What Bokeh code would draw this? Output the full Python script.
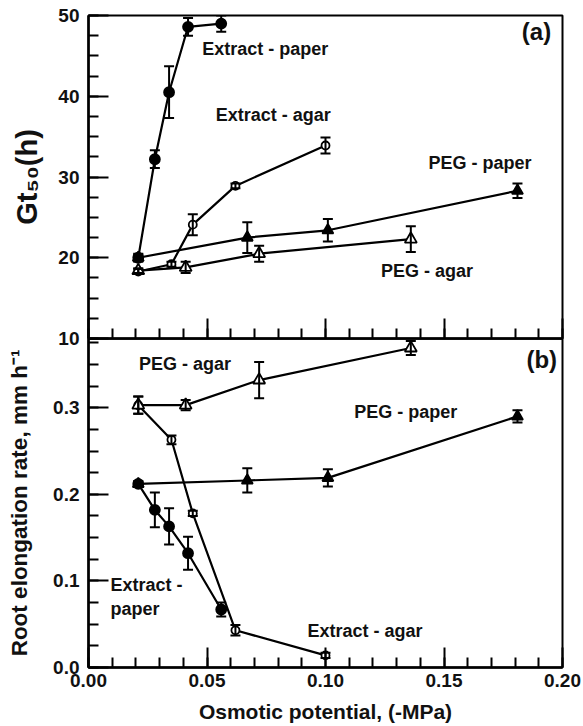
import numpy as np
from bokeh.plotting import figure
from bokeh.models import (Range1d, FixedTicker, NumeralTickFormatter, Whisker, TeeHead,
                          ColumnDataSource)
from bokeh.layouts import column
from bokeh.core.properties import value
from bokeh.embed import file_html
from bokeh.resources import INLINE

FONT = "Liberation Sans"

# ---------------- data ----------------
# Osmotic potential (-MPa)
ext_paper_x = [0.021, 0.028, 0.034, 0.042, 0.056]
ext_agar_x = [0.021, 0.035, 0.044, 0.062, 0.100]
peg_paper_x = [0.021, 0.067, 0.101, 0.181]
peg_agar_x = [0.021, 0.041, 0.072, 0.136]

# (a) Gt50 (h)
ext_paper_gt = [20.0, 32.2, 40.5, 48.6, 49.0]
ext_paper_gt_err = [0.4, 1.1, 3.2, 1.1, 1.0]
ext_agar_gt = [18.3, 19.2, 24.1, 28.9, 33.9]
ext_agar_gt_err = [0.3, 0.3, 1.3, 0.3, 1.0]
peg_paper_gt = [20.0, 22.5, 23.4, 28.3]
peg_paper_gt_err = [0.5, 1.9, 1.4, 0.9]
peg_agar_gt = [18.4, 18.8, 20.5, 22.3]
peg_agar_gt_err = [0.3, 0.7, 1.0, 1.6]

# (b) Root elongation rate (mm h-1)
ext_paper_rate = [0.212, 0.182, 0.163, 0.132, 0.067]
ext_paper_rate_err = [0.003, 0.020, 0.021, 0.019, 0.008]
ext_agar_rate = [0.303, 0.263, 0.178, 0.043, 0.014]
ext_agar_rate_err = [0.010, 0.005, 0.003, 0.006, 0.003]
peg_paper_rate = [0.212, 0.216, 0.219, 0.290]
peg_paper_rate_err = [0.003, 0.014, 0.010, 0.007]
peg_agar_rate = [0.303, 0.303, 0.332, 0.369]
peg_agar_rate_err = [0.010, 0.006, 0.021, 0.008]

# ticks
x_ticks = [0.0, 0.05, 0.10, 0.15, 0.20]
gt_ticks = [10, 20, 30, 40, 50]
rate_ticks = [0.0, 0.1, 0.2, 0.3]

# annotation texts (data coordinates)
labels_a = dict(text=["Extract - paper", "Extract - agar", "PEG - paper", "PEG - agar"],
                x=[0.048, 0.0537, 0.1435, 0.1234], y=[45.8, 37.7, 31.75, 18.3])
labels_b = dict(text=["PEG - agar", "PEG - paper", "Extract -", "paper", "Extract - agar"],
                x=[0.0213, 0.1121, 0.0093, 0.0093, 0.0924],
                y=[0.351, 0.295, 0.095, 0.0674, 0.042])

x_minor = list(np.round(np.arange(0, 0.2001, 0.01), 3))
gt_minor = list(np.arange(10, 50.01, 2.5))
rate_minor = list(np.round(np.arange(0, 0.3801, 0.025), 3))

OVERLAP = 12


def style_fig(p):
    p.grid.visible = False
    p.outline_line_color = "black"
    p.outline_line_width = 2
    for ax in (p.xaxis[0], p.yaxis[0]):
        ax.axis_line_width = 2.5
        ax.axis_line_color = "black"
        ax.major_tick_in = 20
        ax.major_tick_out = 0
        ax.minor_tick_in = 10
        ax.minor_tick_out = 0
        ax.major_tick_line_width = 2
        ax.minor_tick_line_width = 2
        ax.major_tick_line_color = "black"
        ax.minor_tick_line_color = "black"
        ax.major_label_text_font = FONT
        ax.major_label_text_font_style = "bold"
        ax.major_label_text_font_size = "19px"
        ax.major_label_text_color = "#111111"
        ax.axis_label_text_font = FONT
        ax.axis_label_text_font_style = "bold"
        ax.axis_label_text_color = "#111111"


def draw_series(p, xs, ys, errs, marker, filled, size):
    src = ColumnDataSource(dict(x=xs, y=ys,
                                lo=[y - e for y, e in zip(ys, errs)],
                                hi=[y + e for y, e in zip(ys, errs)]))
    p.line("x", "y", source=src, line_color="black", line_width=2.2)
    w = Whisker(source=src, base="x", lower="lo", upper="hi", dimension="height",
                line_color="black", line_width=2,
                upper_head=TeeHead(size=10, line_width=2, line_color="black"),
                lower_head=TeeHead(size=10, line_width=2, line_color="black"))
    w.level = "glyph"
    p.add_layout(w)
    p.scatter("x", "y", source=src, marker=marker, size=size,
              fill_color="black" if filled else "white", line_color="black",
              line_width=1.8)


# ---------------- panel (a) ----------------
p1 = figure(width=583, height=338 + OVERLAP, x_range=Range1d(0, 0.2), y_range=Range1d(10, 50),
            output_backend="svg", toolbar_location=None,
            min_border_left=88, min_border_right=21, min_border_top=15,
            min_border_bottom=OVERLAP)
style_fig(p1)
p1.xaxis[0].ticker = FixedTicker(ticks=x_ticks, minor_ticks=x_minor)
p1.xaxis[0].major_label_overrides = {t: "" for t in x_ticks}
p1.xaxis[0].major_label_text_font_size = "1px"
p1.xaxis[0].major_label_standoff = 0
p1.yaxis[0].ticker = FixedTicker(ticks=gt_ticks, minor_ticks=gt_minor)
p1.yaxis[0].major_label_standoff = 9
p1.yaxis[0].axis_label = "Gt\u2085\u2080(h)"
p1.yaxis[0].axis_label_text_font_size = "29px"
p1.yaxis[0].axis_label_standoff = 12

draw_series(p1, ext_paper_x, ext_paper_gt, ext_paper_gt_err, "circle", True, 10)
draw_series(p1, ext_agar_x, ext_agar_gt, ext_agar_gt_err, "circle", False, 8)
draw_series(p1, peg_agar_x, peg_agar_gt, peg_agar_gt_err, "triangle", False, 12)
draw_series(p1, peg_paper_x, peg_paper_gt, peg_paper_gt_err, "triangle", True, 11)

p1.text(x="x", y="y", text="text", source=ColumnDataSource(labels_a),
        text_font=value(FONT), text_font_style="bold", text_font_size="18px",
        text_baseline="middle", text_align="left", text_color="#111111")
p1.text(x=[0.1952], y=[48.0], text=["(a)"], text_font=value(FONT), text_font_style="bold",
        text_font_size="24px", text_baseline="middle", text_align="right", text_color="#111111")

# ---------------- panel (b) ----------------
p2 = figure(width=583, height=388, x_range=Range1d(0, 0.2), y_range=Range1d(0, 0.38),
            output_backend="svg", toolbar_location=None,
            min_border_left=88, min_border_right=21, min_border_top=0, min_border_bottom=59)
style_fig(p2)
p2.border_fill_alpha = 0
p2.background_fill_alpha = 0
p2.margin = (-OVERLAP, 0, 0, 0)
p2.xaxis[0].ticker = FixedTicker(ticks=x_ticks, minor_ticks=x_minor)
p2.xaxis[0].formatter = NumeralTickFormatter(format="0.00")
p2.xaxis[0].major_label_standoff = 6
p2.xaxis[0].axis_label = "Osmotic potential, (-MPa)"
p2.xaxis[0].axis_label_text_font_size = "21px"
p2.xaxis[0].axis_label_standoff = 10
p2.yaxis[0].ticker = FixedTicker(ticks=rate_ticks, minor_ticks=rate_minor)
p2.yaxis[0].formatter = NumeralTickFormatter(format="0.0")
p2.yaxis[0].major_label_standoff = 9
p2.yaxis[0].axis_label = "Root elongation rate, mm h\u207b\u00b9"
p2.yaxis[0].axis_label_text_font_size = "22.5px"
p2.yaxis[0].axis_label_standoff = 18

draw_series(p2, ext_paper_x, ext_paper_rate, ext_paper_rate_err, "circle", True, 10)
draw_series(p2, ext_agar_x, ext_agar_rate, ext_agar_rate_err, "circle", False, 8)
draw_series(p2, peg_agar_x, peg_agar_rate, peg_agar_rate_err, "triangle", False, 12)
draw_series(p2, peg_paper_x, peg_paper_rate, peg_paper_rate_err, "triangle", True, 11)

p2.text(x="x", y="y", text="text", source=ColumnDataSource(labels_b),
        text_font=value(FONT), text_font_style="bold", text_font_size="18px",
        text_baseline="middle", text_align="left", text_color="#111111")
p2.text(x=[0.1977], y=[0.356], text=["(b)"], text_font=value(FONT), text_font_style="bold",
        text_font_size="24px", text_baseline="middle", text_align="right", text_color="#111111")

layout = column(p1, p2)
open("out.html", "w").write(file_html(layout, INLINE))
